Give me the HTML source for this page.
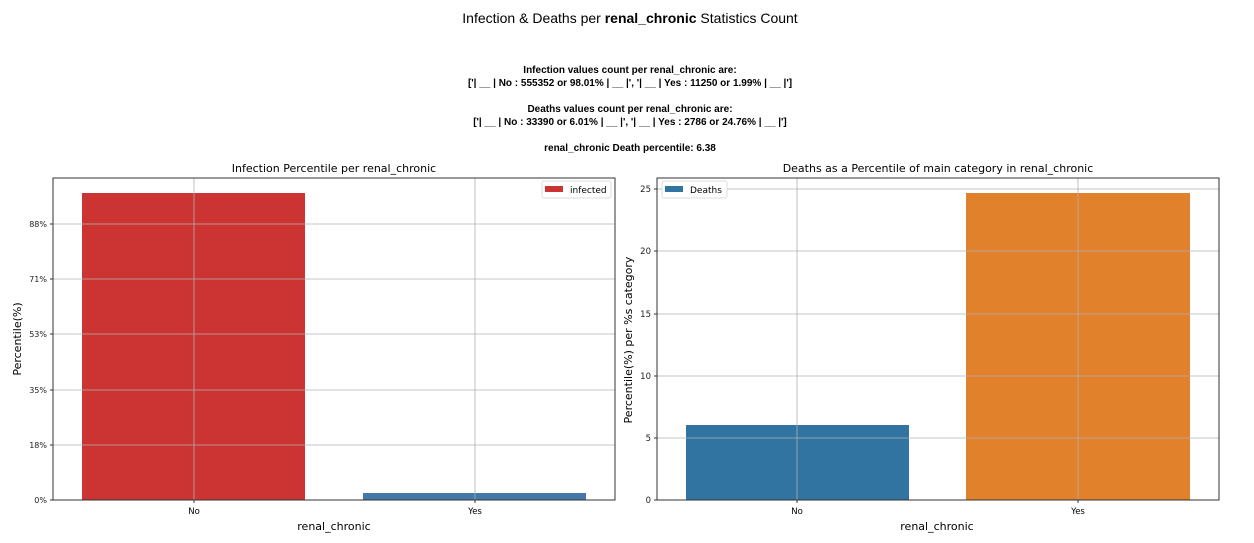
<!DOCTYPE html>
<html><head><meta charset="utf-8"><style>
body{margin:0;background:#fff;}
svg{display:block;font-family:"DejaVu Sans","Liberation Sans",sans-serif;}
.t{font-family:"Liberation Sans",Arial,sans-serif;}
</style></head><body>
<svg width="1254" height="543" viewBox="0 0 1254 543">
<text class="t" x="630" y="23" font-size="14" text-anchor="middle">Infection &amp; Deaths per <tspan font-weight="bold">renal_chronic</tspan> Statistics Count</text>
<g class="t" font-size="10" font-weight="bold" text-anchor="middle">
<text x="630" y="73">Infection values count per renal_chronic are:</text>
<text x="630" y="86">['| __ | No : 555352 or 98.01% | __ |', '| __ | Yes : 11250 or 1.99% | __ |']</text>
<text x="630" y="112">Deaths values count per renal_chronic are:</text>
<text x="630" y="125">['| __ | No : 33390 or 6.01% | __ |', '| __ | Yes : 2786 or 24.76% | __ |']</text>
<text x="630" y="151">renal_chronic Death percentile: 6.38</text>
</g>
<!-- left -->
<text x="334" y="172" font-size="11" text-anchor="middle">Infection Percentile per renal_chronic</text>
<rect x="82" y="193" width="223" height="307" fill="#cc3333"/>
<rect x="363" y="493" width="223" height="7" fill="#4478a8"/>
<g stroke="#b0b0b0" stroke-width="0.8">
<line x1="53" x2="615" y1="224" y2="224"/><line x1="53" x2="615" y1="279" y2="279"/><line x1="53" x2="615" y1="334" y2="334"/><line x1="53" x2="615" y1="390" y2="390"/><line x1="53" x2="615" y1="445" y2="445"/>
<line x1="194" x2="194" y1="178" y2="500"/><line x1="475" x2="475" y1="178" y2="500"/>
</g>
<rect x="53" y="178" width="562" height="322" fill="none" stroke="#333" stroke-width="1"/>
<g font-size="8" text-anchor="end" fill="#222">
<text x="47" y="227">88%</text><text x="47" y="282">71%</text><text x="47" y="337">53%</text><text x="47" y="393">35%</text><text x="47" y="448">18%</text><text x="47" y="503">0%</text>
</g>
<g stroke="#333"><line x1="50" x2="53" y1="224" y2="224"/><line x1="50" x2="53" y1="279" y2="279"/><line x1="50" x2="53" y1="334" y2="334"/><line x1="50" x2="53" y1="390" y2="390"/><line x1="50" x2="53" y1="445" y2="445"/><line x1="50" x2="53" y1="500" y2="500"/><line x1="194" x2="194" y1="500" y2="503"/><line x1="475" x2="475" y1="500" y2="503"/></g>
<g font-size="8.5" text-anchor="middle"><text x="194" y="514">No</text><text x="475" y="514">Yes</text></g>
<text x="334" y="530" font-size="11" text-anchor="middle">renal_chronic</text>
<text transform="translate(21,339) rotate(-90)" font-size="11" text-anchor="middle">Percentile(%)</text>
<rect x="542" y="181" width="69" height="17" fill="#fff" stroke="#ddd" rx="2"/>
<rect x="545" y="186" width="18" height="6" fill="#cc3333"/>
<text x="570" y="193" font-size="9">infected</text>
<!-- right -->
<text x="938" y="172" font-size="11" text-anchor="middle">Deaths as a Percentile of main category in renal_chronic</text>
<rect x="686" y="425" width="223" height="75" fill="#3274a1"/>
<rect x="966" y="193" width="224" height="307" fill="#e1812c"/>
<g stroke="#b0b0b0" stroke-width="0.8">
<line x1="657" x2="1219" y1="189" y2="189"/><line x1="657" x2="1219" y1="251" y2="251"/><line x1="657" x2="1219" y1="314" y2="314"/><line x1="657" x2="1219" y1="376" y2="376"/><line x1="657" x2="1219" y1="438" y2="438"/>
<line x1="797" x2="797" y1="178" y2="500"/><line x1="1078" x2="1078" y1="178" y2="500"/>
</g>
<rect x="657" y="178" width="562" height="322" fill="none" stroke="#333" stroke-width="1"/>
<g font-size="8.5" text-anchor="end" fill="#222">
<text x="651" y="192">25</text><text x="651" y="254">20</text><text x="651" y="317">15</text><text x="651" y="379">10</text><text x="651" y="441">5</text><text x="651" y="503">0</text>
</g>
<g stroke="#333"><line x1="654" x2="657" y1="189" y2="189"/><line x1="654" x2="657" y1="251" y2="251"/><line x1="654" x2="657" y1="314" y2="314"/><line x1="654" x2="657" y1="376" y2="376"/><line x1="654" x2="657" y1="438" y2="438"/><line x1="654" x2="657" y1="500" y2="500"/><line x1="797" x2="797" y1="500" y2="503"/><line x1="1078" x2="1078" y1="500" y2="503"/></g>
<g font-size="8.5" text-anchor="middle"><text x="797" y="514">No</text><text x="1078" y="514">Yes</text></g>
<text x="937" y="530" font-size="11" text-anchor="middle">renal_chronic</text>
<text transform="translate(632,340) rotate(-90)" font-size="11" text-anchor="middle">Percentile(%) per %s category</text>
<rect x="662" y="181" width="65" height="17" fill="#fff" stroke="#ddd" rx="2"/>
<rect x="665" y="186" width="18" height="6" fill="#3274a1"/>
<text x="690" y="193" font-size="9">Deaths</text>
</svg>
</body></html>
